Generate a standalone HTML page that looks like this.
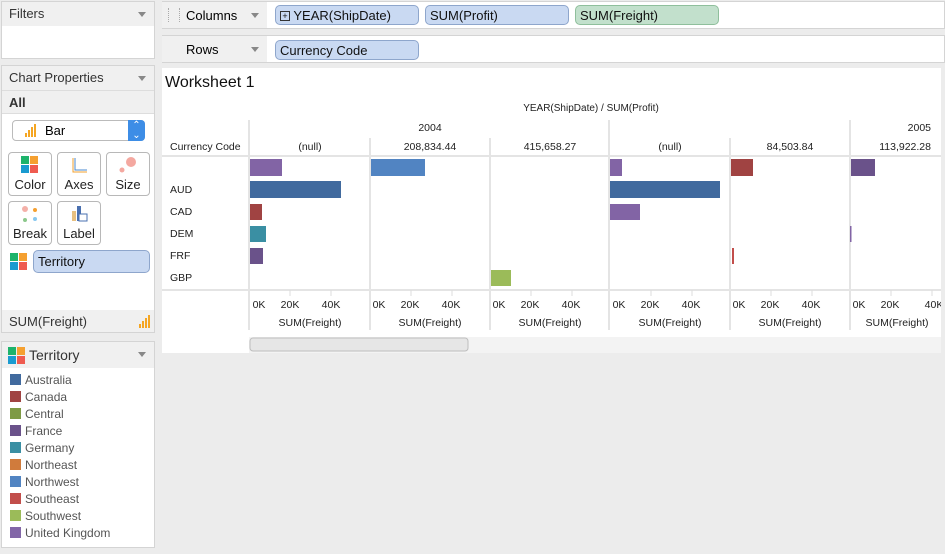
<!DOCTYPE html>
<html><head><meta charset="utf-8"><style>
body{margin:0;width:945px;height:554px;background:#ececec;font-family:"Liberation Sans",sans-serif;position:relative;overflow:hidden}
.a{position:absolute;box-sizing:border-box}
.panel{background:#fff;border:1px solid #d4d4d4}
.hdr{background:#f0f0f0;font-size:13px;color:#333;padding:4px 7px}
.tri{position:absolute;right:8px;top:10px;width:0;height:0;border-left:4px solid transparent;border-right:4px solid transparent;border-top:5px solid #888}
.btn{background:#fff;border:1px solid #b8b8b8;border-radius:4px;font-size:13px;color:#222;text-align:center}
.pill{background:#c9d9f2;border:1px solid #8ea6cc;border-radius:5px;font-size:13px;color:#111;padding:2px 4px}
.sw{display:inline-block;width:11px;height:11px;margin-right:4px;vertical-align:-1px}
.leg div{font-size:12px;color:#555;height:17px;line-height:17px}
</style></head><body>
<div class="a panel" style="left:1px;top:1px;width:154px;height:58px"></div>
<div class="a hdr" style="left:2px;top:2px;width:152px;height:24px">Filters<span class="tri"></span></div>
<div class="a panel" style="left:1px;top:65px;width:154px;height:268px"></div>
<div class="a hdr" style="left:2px;top:66px;width:152px;height:24px">Chart Properties<span class="tri"></span></div>
<div class="a hdr" style="left:2px;top:90px;width:152px;height:24px;font-weight:bold;border-top:1px solid #ddd;border-bottom:1px solid #ddd">All</div>
<div class="a" style="left:12px;top:120px;width:133px;height:21px;border:1px solid #bbb;border-radius:4px;background:#fff;font-size:13px;padding:2px 0 0 32px">Bar</div>
<svg class="a" style="left:25px;top:123px" width="16" height="14"><rect x="0" y="10" width="2" height="4" fill="#f5a623"/><rect x="3" y="7" width="2" height="7" fill="#f5a623"/><rect x="6" y="4" width="2" height="10" fill="#f5a623"/><rect x="9" y="1" width="2" height="13" fill="#f5a623"/></svg>
<div class="a" style="left:128px;top:120px;width:17px;height:21px;background:#3d8de6;border-radius:0 4px 4px 0;color:#fff;font-size:10px;text-align:center;line-height:10px;padding-top:1px">⌃<br>⌄</div>
<div class="a btn" style="left:8px;top:152px;width:44px;height:44px"><svg width="20" height="18" style="margin-top:3px"><rect x="1" y="0" width="8" height="8" fill="#1db36b"/><rect x="10" y="0" width="8" height="8" fill="#f5a030"/><rect x="1" y="9" width="8" height="8" fill="#1a9bd0"/><rect x="10" y="9" width="8" height="8" fill="#ef5b50"/></svg><div>Color</div></div>
<div class="a btn" style="left:57px;top:152px;width:44px;height:44px"><svg width="20" height="18" style="margin-top:3px"><path d="M4 2V16H18" stroke="#f0a030" fill="none"/><path d="M6 2V14H18" stroke="#4a8ad0" fill="none"/></svg><div>Axes</div></div>
<div class="a btn" style="left:106px;top:152px;width:44px;height:44px"><svg width="20" height="18" style="margin-top:3px"><circle cx="13" cy="6" r="5" fill="#f4a8a0"/><circle cx="4" cy="14" r="2.5" fill="#f4a8a0"/></svg><div>Size</div></div>
<div class="a btn" style="left:8px;top:201px;width:44px;height:44px"><svg width="20" height="18" style="margin-top:3px"><circle cx="5" cy="4" r="3" fill="#f4b0a8"/><circle cx="15" cy="5" r="2" fill="#f5a030"/><circle cx="5" cy="15" r="2" fill="#8cc88c"/><circle cx="15" cy="14" r="2" fill="#88c8f0"/></svg><div>Break</div></div>
<div class="a btn" style="left:57px;top:201px;width:44px;height:44px"><svg width="20" height="18" style="margin-top:3px"><rect x="3" y="6" width="4" height="10" fill="#e8c080"/><rect x="8" y="1" width="4" height="15" fill="#4a70b0"/><rect x="10" y="9" width="8" height="7" fill="#fff" stroke="#4a70b0"/></svg><div>Label</div></div>
<svg class="a" style="left:10px;top:253px" width="18" height="18"><rect x="0" y="0" width="8" height="8" fill="#1db36b"/><rect x="9" y="0" width="8" height="8" fill="#f5a030"/><rect x="0" y="9" width="8" height="8" fill="#1a9bd0"/><rect x="9" y="9" width="8" height="8" fill="#ef5b50"/></svg>
<div class="a pill" style="left:33px;top:250px;width:117px;height:23px;padding:3px 4px">Territory</div>
<div class="a hdr" style="left:2px;top:310px;width:152px;height:22px;padding-top:4px">SUM(Freight)</div>
<svg class="a" style="left:139px;top:314px" width="14" height="14"><rect x="0" y="10" width="2" height="4" fill="#f5a623"/><rect x="3" y="7" width="2" height="7" fill="#f5a623"/><rect x="6" y="4" width="2" height="10" fill="#f5a623"/><rect x="9" y="1" width="2" height="13" fill="#f5a623"/></svg>
<div class="a panel" style="left:1px;top:341px;width:154px;height:207px"></div>
<div class="a hdr" style="left:2px;top:342px;width:152px;height:26px;padding:5px 0 0 27px;font-size:14px">Territory<span class="tri"></span></div>
<svg class="a" style="left:8px;top:347px" width="18" height="18"><rect x="0" y="0" width="8" height="8" fill="#1db36b"/><rect x="9" y="0" width="8" height="8" fill="#f5a030"/><rect x="0" y="9" width="8" height="8" fill="#1a9bd0"/><rect x="9" y="9" width="8" height="8" fill="#ef5b50"/></svg>
<div class="a leg" style="left:10px;top:372px">
<div><span class="sw" style="background:#416a9e"></span>Australia</div>
<div><span class="sw" style="background:#a04342"></span>Canada</div>
<div><span class="sw" style="background:#7e9a45"></span>Central</div>
<div><span class="sw" style="background:#6a528a"></span>France</div>
<div><span class="sw" style="background:#3a8fa3"></span>Germany</div>
<div><span class="sw" style="background:#d07b3c"></span>Northeast</div>
<div><span class="sw" style="background:#5184c2"></span>Northwest</div>
<div><span class="sw" style="background:#c24e4b"></span>Southeast</div>
<div><span class="sw" style="background:#9bbb59"></span>Southwest</div>
<div><span class="sw" style="background:#8266a7"></span>United Kingdom</div>
</div>
<div class="a" style="left:162px;top:1px;width:783px;height:28px;background:#fff;border:1px solid #d4d4d4"></div>
<div class="a" style="left:162px;top:2px;width:105px;height:26px;background:#f0f0f0;font-size:13px;padding:6px 0 0 24px">Columns<span class="tri" style="top:11px"></span></div>
<div class="a" style="left:168px;top:8px;width:12px;height:14px;border-left:1px dotted #aaa;border-right:1px dotted #aaa"></div>
<div class="a pill" style="left:275px;top:5px;width:144px;height:20px;padding:2px 4px"><span style="display:inline-block;width:8px;height:8px;border:1px solid #333;font-size:9px;line-height:8px;text-align:center;vertical-align:1px">+</span> YEAR(ShipDate)</div>
<div class="a pill" style="left:425px;top:5px;width:144px;height:20px">SUM(Profit)</div>
<div class="a pill" style="left:575px;top:5px;width:144px;height:20px;background:#c2e0cc;border-color:#8fbf9c">SUM(Freight)</div>
<div class="a" style="left:162px;top:35px;width:783px;height:28px;background:#fff;border:1px solid #d4d4d4"></div>
<div class="a" style="left:162px;top:36px;width:105px;height:26px;background:#f0f0f0;font-size:13px;padding:6px 0 0 24px">Rows<span class="tri" style="top:11px"></span></div>
<div class="a pill" style="left:275px;top:40px;width:144px;height:20px">Currency Code</div>
<svg class="a" style="left:162px;top:68px" width="779" height="285" font-family="Liberation Sans, sans-serif">
<rect width="779" height="285" fill="#fff"/>
<text x="3" y="19" font-size="16" fill="#111">Worksheet 1</text>
<text x="429" y="43" font-size="10" fill="#222" text-anchor="middle">YEAR(ShipDate) / SUM(Profit)</text>
<g stroke="#e4e4e4" stroke-width="2">
<line x1="87" y1="52" x2="87" y2="262"/>
<line x1="208" y1="70" x2="208" y2="262"/><line x1="328" y1="70" x2="328" y2="262"/>
<line x1="447" y1="52" x2="447" y2="262"/><line x1="568" y1="70" x2="568" y2="262"/>
<line x1="688" y1="52" x2="688" y2="262"/>
<line x1="0" y1="88" x2="779" y2="88"/><line x1="0" y1="222" x2="779" y2="222"/>
</g>
<g font-size="10.5" fill="#222" text-anchor="middle">
<text x="268" y="63">2004</text><text x="769" y="63" text-anchor="end">2005</text>
<text x="148" y="82">(null)</text><text x="268" y="82">208,834.44</text><text x="388" y="82">415,658.27</text>
<text x="508" y="82">(null)</text><text x="628" y="82">84,503.84</text><text x="769" y="82" text-anchor="end">113,922.28</text>
</g>
<g font-size="10.5" fill="#222">
<text x="8" y="82">Currency Code</text>
<text x="8" y="125">AUD</text><text x="8" y="147">CAD</text><text x="8" y="169">DEM</text><text x="8" y="191">FRF</text><text x="8" y="213">GBP</text>
</g>
<g>
<rect x="88" y="91" width="32" height="17" fill="#8264a5"/>
<rect x="88" y="113" width="91" height="17" fill="#416a9e"/>
<rect x="88" y="136" width="12" height="16" fill="#a04342"/>
<rect x="88" y="158" width="16" height="16" fill="#3a8fa3"/>
<rect x="88" y="180" width="13" height="16" fill="#6a528a"/>
<rect x="209" y="91" width="54" height="17" fill="#5184c2"/>
<rect x="329" y="202" width="20" height="16" fill="#9bbb59"/>
<rect x="448" y="91" width="12" height="17" fill="#8264a5"/>
<rect x="448" y="113" width="110" height="17" fill="#416a9e"/>
<rect x="448" y="136" width="30" height="16" fill="#8264a5"/>
<rect x="569" y="91" width="22" height="17" fill="#a04342"/>
<rect x="570" y="180" width="2" height="16" fill="#c24e4b"/>
<rect x="689" y="91" width="24" height="17" fill="#6a528a"/>
<rect x="688" y="158" width="1.5" height="16" fill="#8264a5"/>
</g>
<g stroke="#ddd"><line x1="128" y1="222" x2="128" y2="228"/><line x1="169" y1="222" x2="169" y2="228"/>
<line x1="249" y1="222" x2="249" y2="228"/><line x1="290" y1="222" x2="290" y2="228"/>
<line x1="369" y1="222" x2="369" y2="228"/><line x1="410" y1="222" x2="410" y2="228"/>
<line x1="489" y1="222" x2="489" y2="228"/><line x1="530" y1="222" x2="530" y2="228"/>
<line x1="609" y1="222" x2="609" y2="228"/><line x1="650" y1="222" x2="650" y2="228"/>
<line x1="729" y1="222" x2="729" y2="228"/><line x1="770" y1="222" x2="770" y2="228"/></g>
<g font-size="10.5" fill="#222" text-anchor="middle">
<text x="97" y="240">0K</text><text x="128" y="240">20K</text><text x="169" y="240">40K</text>
<text x="217" y="240">0K</text><text x="248" y="240">20K</text><text x="289" y="240">40K</text>
<text x="337" y="240">0K</text><text x="368" y="240">20K</text><text x="409" y="240">40K</text>
<text x="457" y="240">0K</text><text x="488" y="240">20K</text><text x="529" y="240">40K</text>
<text x="577" y="240">0K</text><text x="608" y="240">20K</text><text x="649" y="240">40K</text>
<text x="697" y="240">0K</text><text x="728" y="240">20K</text><text x="772" y="240">40K</text>
<text x="148" y="258">SUM(Freight)</text><text x="268" y="258">SUM(Freight)</text><text x="388" y="258">SUM(Freight)</text>
<text x="508" y="258">SUM(Freight)</text><text x="628" y="258">SUM(Freight)</text><text x="735" y="258">SUM(Freight)</text>
</g>
<rect x="87" y="269" width="692" height="16" fill="#f3f3f3"/>
<rect x="88" y="270" width="218" height="13" rx="3" fill="#e6e6e6" stroke="#bdbdbd"/>
</svg>
</body></html>
